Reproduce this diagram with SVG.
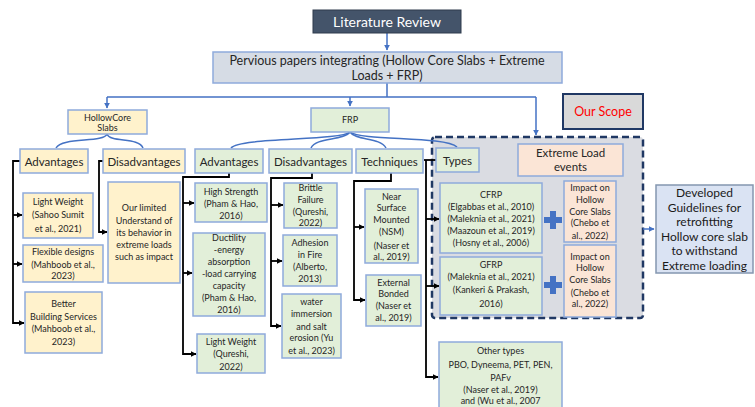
<svg xmlns="http://www.w3.org/2000/svg" width="755" height="407" viewBox="0 0 755 407">
<defs>
<marker id="ab" viewBox="0 0 10 10" refX="9" refY="5" markerWidth="6" markerHeight="6" markerUnits="userSpaceOnUse" orient="auto"><path d="M0,0 L10,5 L0,10 z" fill="#000"/></marker>
<marker id="au" viewBox="0 0 10 10" refX="9" refY="5" markerWidth="6" markerHeight="6" markerUnits="userSpaceOnUse" orient="auto"><path d="M0,0 L10,5 L0,10 z" fill="#4472c4"/></marker>
<style>
text{font-family:Lato,"Liberation Sans",sans-serif;fill:#262626;text-anchor:middle}
.s{font-size:9px}
.m{font-size:11.5px}
.d{font-size:12px;fill:#1a1a1a}
.y{fill:#fff2cc;stroke:#8eaadb;stroke-width:1.5}
.g{fill:#e2efd9;stroke:#8eaadb;stroke-width:1.5}
.p{fill:#fbe5d6;stroke:#8eaadb;stroke-width:1.5}
.bl{fill:none;stroke:#4472c4;stroke-width:1.5}
.bk{fill:none;stroke:#000;stroke-width:1.8}
.plus{fill:#4472c4}
</style>
</defs>

<g id="scope-region">
<rect x="432" y="137" width="211" height="181" rx="3" fill="#dadce2" stroke="#203864" stroke-width="2.5" stroke-dasharray="7,4"/>
</g>

<g id="connectors">
<path class="bl" d="M387,33 V50" marker-end="url(#au)"/>
<path class="bl" d="M387,83 V97 M107,97 H536"/>
<path class="bl" d="M107,97 V108" marker-end="url(#au)"/>
<path class="bl" d="M350,97 V106" marker-end="url(#au)"/>
<path class="bl" d="M536,97 V135" marker-end="url(#au)"/>
<path class="bl" d="M107,134 C104,143 62,137 56,148"/>
<path class="bl" d="M107,134 C110,143 139,137 143,148"/>
<path class="bl" d="M350,132 C340,141 240,137 231,148"/>
<path class="bl" d="M350,132 C343,141 316,137 311,148"/>
<path class="bl" d="M350,132 C356,141 380,137 386,148"/>
<path class="bl" d="M350,132 C362,141 445,136 457,147"/>
<path class="bl" d="M643,229 H654" marker-end="url(#au)"/>
<path class="bk" d="M20,161 H13 V323 H24" marker-end="url(#ab)"/>
<path class="bk" d="M13,215 H22" marker-end="url(#ab)"/>
<path class="bk" d="M13,264 H22" marker-end="url(#ab)"/>
<path class="bk" d="M103,161 H99 V232 H107" marker-end="url(#ab)"/>
<path class="bk" d="M229,173 V177 H183 V354 H196" marker-end="url(#ab)"/>
<path class="bk" d="M183,203 H194" marker-end="url(#ab)"/>
<path class="bk" d="M183,273 H192" marker-end="url(#ab)"/>
<path class="bk" d="M312,173 V178 H271 V326 H281" marker-end="url(#ab)"/>
<path class="bk" d="M271,205 H283" marker-end="url(#ab)"/>
<path class="bk" d="M271,261 H282" marker-end="url(#ab)"/>
<path class="bk" d="M391,173 V181 H354 V300 H365" marker-end="url(#ab)"/>
<path class="bk" d="M354,227 H364" marker-end="url(#ab)"/>
<path class="bk" d="M436,160 H424"/>
<path class="bk" d="M426,160 V377 H438" marker-end="url(#ab)"/>
<path class="bk" d="M426,219 H439" marker-end="url(#ab)"/>
<path class="bk" d="M426,286 H439" marker-end="url(#ab)"/>
</g>

<g id="literature-review">
<rect x="313" y="10" width="148" height="23" fill="#44546a" stroke="#2f3b4c" stroke-width="1"/>
<text x="387" y="26.5" style="font-size:14px;fill:#ffffff">Literature Review</text>
</g>

<g id="pervious">
<rect x="213" y="52" width="349" height="31" fill="#d6dce5" stroke="#8eaadb" stroke-width="1.5"/>
<text x="387" y="65" style="font-size:12.5px">Pervious papers integrating (Hollow Core Slabs + Extreme</text>
<text x="387" y="80" style="font-size:12.5px">Loads + FRP)</text>
</g>

<g id="our-scope">
<rect x="563" y="94" width="80" height="35" fill="#d9d9d9" stroke="#203864" stroke-width="2"/>
<text x="603" y="116" style="font-size:12.5px;fill:#ff0000">Our Scope</text>
</g>

<g id="hollow-core">
<rect class="y" x="68" y="110" width="79" height="24"/>
<text x="107.5" y="121" style="font-size:9px">HollowCore</text>
<text x="107.5" y="131" style="font-size:9px">Slabs</text>
</g>

<g id="frp">
<rect class="g" x="311" y="108" width="78" height="24"/>
<text x="350" y="123" style="font-size:9px">FRP</text>
</g>

<g id="hc-advantages">
<rect class="y" x="20" y="149" width="68" height="24"/>
<text class="m" x="54" y="165.5">Advantages</text>
</g>
<g id="hc-disadvantages">
<rect class="y" x="103" y="149" width="82" height="24"/>
<text class="m" x="144" y="165.5">Disadvantages</text>
</g>
<g id="frp-advantages">
<rect class="g" x="195" y="149" width="68" height="24"/>
<text class="m" x="229" y="165.5">Advantages</text>
</g>
<g id="frp-disadvantages">
<rect class="g" x="269" y="149" width="83" height="24"/>
<text class="m" x="310.5" y="165.5">Disadvantages</text>
</g>
<g id="techniques">
<rect class="g" x="356" y="149" width="67" height="24"/>
<text class="m" x="389.5" y="165.5">Techniques</text>
</g>
<g id="types">
<rect class="g" x="436" y="148" width="43" height="24"/>
<text class="m" x="457.5" y="164.5">Types</text>
</g>
<g id="extreme-load">
<rect class="p" x="518" y="144" width="105" height="32"/>
<text class="m" x="570.5" y="157">Extreme Load</text>
<text class="m" x="570.5" y="171">events</text>
</g>

<g id="hc-light-weight">
<rect class="y" x="23" y="193" width="70" height="45"/>
<text class="s" x="58" y="205">Light Weight</text>
<text class="s" x="58" y="218">(Sahoo Sumit</text>
<text class="s" x="58" y="232">et al., 2021)</text>
</g>
<g id="hc-flexible">
<rect class="y" x="23" y="245" width="80" height="37"/>
<text class="s" x="63" y="255">Flexible designs</text>
<text class="s" x="63" y="268">(Mahboob et al.,</text>
<text class="s" x="63" y="279">2023)</text>
</g>
<g id="hc-better">
<rect class="y" x="25" y="292" width="77" height="61"/>
<text class="s" x="63.5" y="307">Better</text>
<text class="s" x="63.5" y="320">Building Services</text>
<text class="s" x="63.5" y="332">(Mahboob et al.,</text>
<text class="s" x="63.5" y="345">2023)</text>
</g>
<g id="hc-limited">
<rect class="y" x="108" y="182" width="72" height="101"/>
<text class="s" x="144" y="211">Our limited</text>
<text class="s" x="144" y="224">Understand of</text>
<text class="s" x="144" y="236">its behavior in</text>
<text class="s" x="144" y="248">extreme loads</text>
<text class="s" x="144" y="260">such as impact</text>
</g>

<g id="frp-high-strength">
<rect class="g" x="195" y="183" width="72" height="39"/>
<text class="s" x="231" y="195">High Strength</text>
<text class="s" x="231" y="207">(Pham &amp; Hao,</text>
<text class="s" x="231" y="219">2016)</text>
</g>
<g id="frp-ductility">
<rect class="g" x="193" y="233" width="72" height="83"/>
<text class="s" x="229" y="241">Ductility</text>
<text class="s" x="229" y="253">-energy</text>
<text class="s" x="229" y="265">absorption</text>
<text class="s" x="229" y="277">-load carrying</text>
<text class="s" x="229" y="289">capacity</text>
<text class="s" x="229" y="301">(Pham &amp; Hao,</text>
<text class="s" x="229" y="313">2016)</text>
</g>
<g id="frp-light-weight">
<rect class="g" x="197" y="334" width="68" height="39"/>
<text class="s" x="231" y="345">Light Weight</text>
<text class="s" x="231" y="357">(Qureshi,</text>
<text class="s" x="231" y="370">2022)</text>
</g>

<g id="frp-brittle">
<rect class="g" x="284" y="183" width="53" height="45"/>
<text class="s" x="310.5" y="191">Brittle</text>
<text class="s" x="310.5" y="203">Failure</text>
<text class="s" x="310.5" y="215">(Qureshi,</text>
<text class="s" x="310.5" y="226">2022)</text>
</g>
<g id="frp-adhesion">
<rect class="g" x="283" y="235" width="54" height="51"/>
<text class="s" x="310" y="246">Adhesion</text>
<text class="s" x="310" y="258">in Fire</text>
<text class="s" x="310" y="270">(Alberto,</text>
<text class="s" x="310" y="282">2013)</text>
</g>
<g id="frp-water">
<rect class="g" x="282" y="294" width="59" height="64"/>
<text class="s" x="311.5" y="305">water</text>
<text class="s" x="311.5" y="317">immersion</text>
<text class="s" x="311.5" y="330">and salt</text>
<text class="s" x="311.5" y="341">erosion (Yu</text>
<text class="s" x="311.5" y="354">et al., 2023)</text>
</g>

<g id="tech-nsm">
<rect class="g" x="365" y="189" width="53" height="74"/>
<text class="s" x="391.5" y="200">Near</text>
<text class="s" x="391.5" y="211">Surface</text>
<text class="s" x="391.5" y="223">Mounted</text>
<text class="s" x="391.5" y="235">(NSM)</text>
<text class="s" x="391.5" y="249">(Naser et</text>
<text class="s" x="391.5" y="260">al., 2019)</text>
</g>
<g id="tech-external">
<rect class="g" x="366" y="275" width="55" height="51"/>
<text class="s" x="393.5" y="286">External</text>
<text class="s" x="393.5" y="297">Bonded</text>
<text class="s" x="393.5" y="309">(Naser et</text>
<text class="s" x="393.5" y="321">al., 2019)</text>
</g>

<g id="cfrp">
<rect class="g" x="440" y="183" width="102" height="70"/>
<text class="s" x="491" y="198">CFRP</text>
<text class="s" x="491" y="210">(Elgabbas et al., 2010)</text>
<text class="s" x="491" y="222">(Maleknia et al., 2021)</text>
<text class="s" x="491" y="234">(Maazoun et al., 2019)</text>
<text class="s" x="491" y="246">(Hosny et al., 2006)</text>
</g>
<g id="gfrp">
<rect class="g" x="440" y="257" width="102" height="58"/>
<text class="s" x="491" y="268">GFRP</text>
<text class="s" x="491" y="280">(Maleknia et al., 2021)</text>
<text class="s" x="491" y="293">(Kankeri &amp; Prakash,</text>
<text class="s" x="491" y="307">2016)</text>
</g>
<g id="plus-1">
<path class="plus" d="M550,211 h6 v6 h6 v6 h-6 v6 h-6 v-6 h-6 v-6 h6 z"/>
</g>
<g id="plus-2">
<path class="plus" d="M550,276 h6 v6 h6 v6 h-6 v6 h-6 v-6 h-6 v-6 h6 z"/>
</g>
<g id="impact-1">
<rect class="p" x="564" y="181" width="52" height="61"/>
<text class="s" x="590" y="191">Impact on</text>
<text class="s" x="590" y="203">Hollow</text>
<text class="s" x="590" y="215">Core Slabs</text>
<text class="s" x="590" y="226">(Chebo et</text>
<text class="s" x="590" y="239">al., 2022)</text>
</g>
<g id="impact-2">
<rect class="p" x="564" y="245" width="52" height="72"/>
<text class="s" x="590" y="260">Impact on</text>
<text class="s" x="590" y="271">Hollow</text>
<text class="s" x="590" y="283">Core Slabs</text>
<text class="s" x="590" y="296">(Chebo et</text>
<text class="s" x="590" y="307">al., 2022)</text>
</g>

<g id="developed">
<rect x="656" y="185" width="97" height="88" fill="#dae3f3" stroke="#8497b0" stroke-width="1.5"/>
<text class="d" x="704.5" y="197">Developed</text>
<text class="d" x="704.5" y="211.5">Guidelines for</text>
<text class="d" x="704.5" y="226">retrofitting</text>
<text class="d" x="704.5" y="240.5">Hollow core slab</text>
<text class="d" x="704.5" y="255">to withstand</text>
<text class="d" x="704.5" y="269.5">Extreme loading</text>
</g>

<g id="other-types">
<rect class="g" x="439" y="342" width="123" height="75"/>
<text class="s" x="500.5" y="354">Other types</text>
<text class="s" x="500.5" y="368">PBO, Dyneema, PET, PEN,</text>
<text class="s" x="500.5" y="381">PAFv</text>
<text class="s" x="500.5" y="393">(Naser et al., 2019)</text>
<text class="s" x="500.5" y="404">and (Wu et al., 2007</text>
</g>
</svg>
